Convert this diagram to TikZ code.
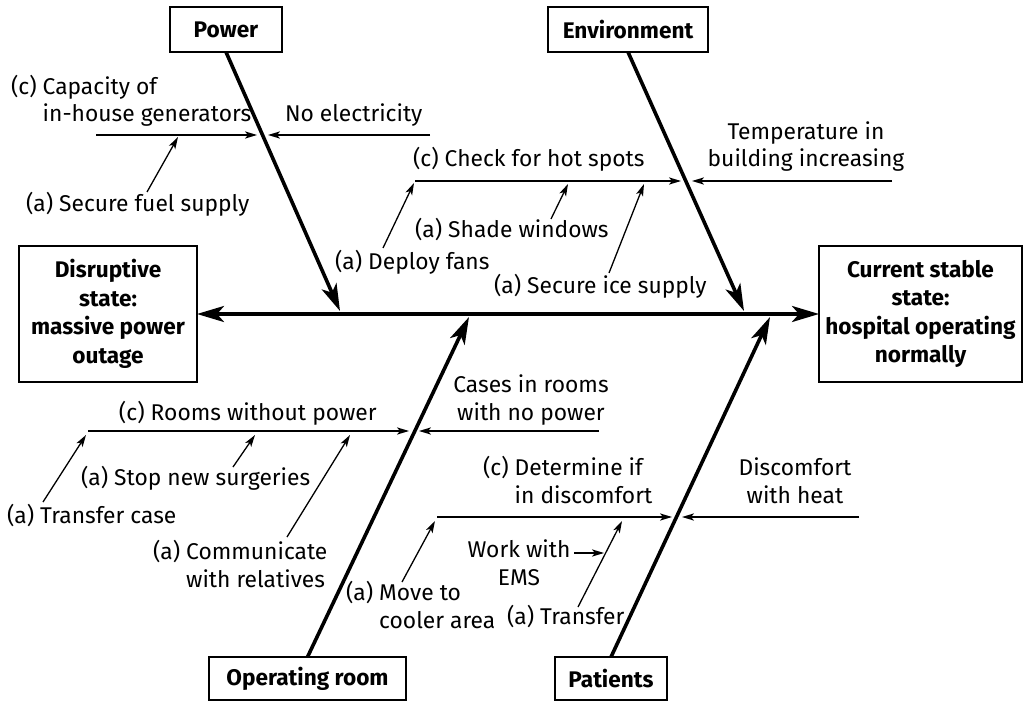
\documentclass[tikz,border=0pt]{standalone}
\usepackage{fontspec}
\setmainfont{Fira Sans}
\usetikzlibrary{arrows.meta}
\begin{document}
\begin{tikzpicture}[x=0.5pt,y=-0.5pt,
  every node/.style={inner sep=0pt, outer sep=0pt, font=\fontsize{11.4}{13.75}\selectfont},
  catbox/.style={draw, line width=1pt, font=\fontsize{11.3}{14.25}\selectfont\bfseries, align=center},
  spine/.style={line width=1.8pt, {Stealth[length=13.5pt,width=8pt,inset=3.5pt]}-{Stealth[length=13.5pt,width=8pt,inset=3.5pt]}},
  bone/.style={line width=1.8pt, -{Stealth[length=13.5pt,width=8pt,inset=3.5pt]}},
  twig/.style={line width=0.65pt, -{Stealth[length=6pt,width=3.6pt,inset=1.5pt]}},
  lbl/.style={anchor=base west, align=left},
  clbl/.style={anchor=base, align=center},
]
\useasboundingbox (0,0) rectangle (1024,701);

% category boxes and the two states
\node[catbox, minimum width=56pt, minimum height=22.5pt] (power) at (226,29.5) {Power};
\node[catbox, minimum width=80pt, minimum height=22.5pt] (env) at (628,29.5) {Environment};
\node[catbox, minimum width=89pt, minimum height=68pt] (disr) at (108,314)
  {Disruptive\\state:\\massive power\\outage};
\node[catbox, minimum width=101.5pt, minimum height=68pt] (curr) at (920.5,314)
  {Current stable\\state:\\hospital operating\\normally};
\node[catbox, minimum width=98.5pt, minimum height=21.5pt] (orm) at (307.5,678.5) {Operating room};
\node[catbox, minimum width=56pt, minimum height=21.5pt] (pat) at (611,678.5) {Patients};

% spine and main bones
\draw[spine] (disr.east) -- (curr.west);
\coordinate (pj) at (340,311);
\coordinate (ej) at (744,311);
\coordinate (oj) at (469,317);
\coordinate (aj) at (770,317);
\draw[bone] (power.south) -- (pj);
\draw[bone] (env.south) -- (ej);
\draw[bone] (orm.north) -- (oj);
\draw[bone] (pat.north) -- (aj);

% ---- Power branch
\coordinate (p1) at (96,135);  \coordinate (p1e) at (257,135);
\coordinate (p2) at (430,135); \coordinate (p2e) at (268,135);
\draw[twig] (p1) -- (p1e);
\draw[twig] (p2) -- (p2e);
\node[lbl] (cap) at (11,122) {(c) Capacity of\\\hphantom{(c) }in-house generators};
\node[lbl] (noel) at (285,122) {No electricity};
\node[lbl] (fuel) at (26,212) {(a) Secure fuel supply};
\coordinate (fuels) at (147,192); \coordinate (fuele) at (178,137);
\draw[twig] (fuels) -- (fuele);

% ---- Environment branch
\coordinate (e1) at (415,181); \coordinate (e1e) at (681,181);
\coordinate (e2) at (892,181); \coordinate (e2e) at (692,181);
\draw[twig] (e1) -- (e1e);
\draw[twig] (e2) -- (e2e);
\node[lbl] (check) at (413,167) {(c) Check for hot spots};
\node[clbl] (temp) at (806,167) {Temperature in\\building increasing};
\node[lbl] (shade) at (415,238) {(a) Shade windows};
\node[lbl] (fans) at (335,270) {(a) Deploy fans};
\node[lbl] (ice) at (494,293) {(a) Secure ice supply};
\coordinate (shs) at (551,219); \coordinate (she) at (568,184);
\coordinate (fas) at (383,248); \coordinate (fae) at (414,183);
\coordinate (ics) at (609,273); \coordinate (ice2) at (644,184);
\draw[twig] (shs) -- (she);
\draw[twig] (fas) -- (fae);
\draw[twig] (ics) -- (ice2);

% ---- Operating room branch
\coordinate (o1) at (88,431);  \coordinate (o1e) at (409,431);
\coordinate (o2) at (599,431); \coordinate (o2e) at (419,431);
\draw[twig] (o1) -- (o1e);
\draw[twig] (o2) -- (o2e);
\node[lbl] (rooms) at (119,420) {(c) Rooms without power};
\node[clbl] (cases) at (531,420) {Cases in rooms\\with no power};
\node[lbl] (stop) at (81,485) {(a) Stop new surgeries};
\node[lbl] (trc) at (7,523) {(a) Transfer case};
\node[lbl] (comm) at (153,587) {(a) Communicate\\\hphantom{(a) }with relatives};
\coordinate (sts) at (233,467); \coordinate (ste) at (255,435);
\coordinate (tcs) at (43,502);  \coordinate (tce) at (86,435);
\coordinate (cms) at (287,537); \coordinate (cme) at (350,435);
\draw[twig] (sts) -- (ste);
\draw[twig] (tcs) -- (tce);
\draw[twig] (cms) -- (cme);

% ---- Patients branch
\coordinate (a1) at (437,517); \coordinate (a1e) at (672,517);
\coordinate (a2) at (859,517); \coordinate (a2e) at (682,517);
\draw[twig] (a1) -- (a1e);
\draw[twig] (a2) -- (a2e);
\node[lbl] (det) at (483,503) {(c) Determine if\\\hphantom{(c) }in discomfort};
\node[clbl] (disc) at (795,503) {Discomfort\\with heat};
\node[lbl] (move) at (346,628) {(a) Move to\\\hphantom{(a) }cooler area};
\node[clbl] (ems) at (519,585) {Work with\\EMS};
\node[lbl] (trn) at (507,624) {(a) Transfer};
\coordinate (mvs) at (402,582); \coordinate (mve) at (435,521);
\coordinate (trs) at (578,607); \coordinate (tre) at (622,521);
\coordinate (ems1) at (574,553); \coordinate (ems2) at (604,553);
\draw[twig] (mvs) -- (mve);
\draw[twig] (trs) -- (tre);
\draw[twig] (ems1) -- (ems2);
\end{tikzpicture}
\end{document}
